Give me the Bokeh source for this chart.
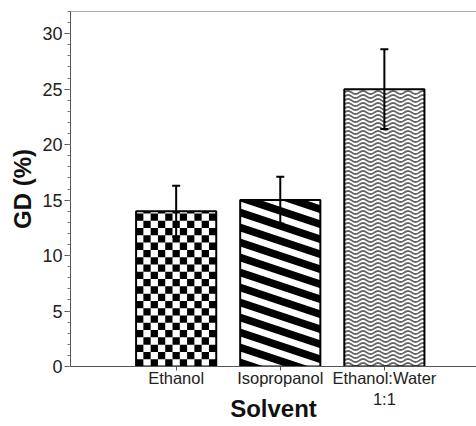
import math
from bokeh.plotting import figure
from bokeh.models import (ColumnDataSource, Whisker, TeeHead, FixedTicker, SingleIntervalTicker,
                          LinearAxis, Range1d)
from bokeh.embed import file_html
from bokeh.resources import INLINE

# ---- data ----
categories = ["Ethanol", "Isopropanol", "Ethanol:Water\n1:1"]
gd_values = [14.0, 15.0, 25.0]
gd_errors = [2.3, 2.1, 3.6]
x_title = "Solvent"
y_title = "GD (%)"

xpos = [i + 1 for i in range(len(categories))]
upper = [v + e for v, e in zip(gd_values, gd_errors)]
lower = [v - e for v, e in zip(gd_values, gd_errors)]

# ---- layout ----
W, H = 476, 426
B_LEFT, B_TOP, B_BOTTOM = 70, 11, 60
X0, X1 = -0.015, 3.885
Y0, Y1 = 0, 32
BAR_W = 0.77
px_x = (W - B_LEFT) / (X1 - X0)             # pixels per x unit
px_y = (H - B_TOP - B_BOTTOM) / (Y1 - Y0)   # pixels per y unit

p = figure(width=W, height=H, output_backend="svg", toolbar_location=None,
           x_range=Range1d(X0, X1), y_range=Range1d(Y0, Y1),
           min_border_left=B_LEFT, min_border_right=0, min_border_top=B_TOP,
           min_border_bottom=B_BOTTOM)
p.outline_line_color = None
p.grid.grid_line_color = None
p.background_fill_color = "white"
p.border_fill_color = "white"

# white bar bodies
p.vbar(x=xpos, top=gd_values, width=BAR_W, fill_color="white", line_color=None)


def clip_y(poly, lo, hi):
    def clip(pts, keep, inter):
        out = []
        n = len(pts)
        for i in range(n):
            a, b = pts[i], pts[(i + 1) % n]
            ka, kb = keep(a), keep(b)
            if ka:
                out.append(a)
            if ka != kb:
                out.append(inter(a, b))
        return out

    def at_y(a, b, yv):
        t = (yv - a[1]) / (b[1] - a[1])
        return (a[0] + t * (b[0] - a[0]), yv)

    pts = clip(poly, lambda q: q[1] >= lo, lambda a, b: at_y(a, b, lo))
    if pts:
        pts = clip(pts, lambda q: q[1] <= hi, lambda a, b: at_y(a, b, hi))
    return pts


# --- pattern 1: checkerboard (Ethanol) ---
xc, top = xpos[0], gd_values[0]
L = xc - BAR_W / 2
ncol = 11
cw = BAR_W / ncol
ch = cw * px_x / px_y
ql, qr, qb, qt = [], [], [], []
r = 0
while r * ch < top:
    for c in range(ncol):
        if (r + c) % 2 == 0:
            ql.append(L + c * cw)
            qr.append(L + (c + 1) * cw)
            qb.append(r * ch)
            qt.append(min((r + 1) * ch, top))
    r += 1
p.quad(left=ql, right=qr, bottom=qb, top=qt, fill_color="black", line_color=None)

# --- pattern 2: diagonal stripes (Isopropanol) ---
xc, top = xpos[1], gd_values[1]
L, R = xc - BAR_W / 2, xc + BAR_W / 2
period = 15 / px_y
thick = 8 / px_y
slope = (1 / 3) * px_x / px_y
drop = slope * BAR_W
xs, ys = [], []
j = -1
while j * period < top + drop:
    b = j * period
    poly = [(L, b), (R, b - drop), (R, b - drop + thick), (L, b + thick)]
    cp = clip_y(poly, 0, top)
    if len(cp) >= 3:
        xs.append([q[0] for q in cp])
        ys.append([q[1] for q in cp])
    j += 1
p.patches(xs, ys, fill_color="black", line_color=None)

# --- pattern 3: horizontal waves (Ethanol:Water 1:1) ---
xc, top = xpos[2], gd_values[2]
L, R = xc - BAR_W / 2, xc + BAR_W / 2
wper = 4 / px_y
amp = 1.5 / px_y
wl = 15 / px_x
npts = int(BAR_W * px_x * 2) + 1
wx, wy = [], []
k = 0
while True:
    yb = 2.0 / px_y + k * wper
    if yb + amp > top - 0.5 / px_y:
        break
    if yb - amp >= 0:
        xx = [L + BAR_W * i / (npts - 1) for i in range(npts)]
        yy = [yb + amp * math.sin(2 * math.pi * (x - L) / wl) for x in xx]
        wx.append(xx)
        wy.append(yy)
    k += 1
p.multi_line(wx, wy, line_color="#666666", line_width=1.8)

# bar outlines
p.vbar(x=xpos, top=gd_values, width=BAR_W, fill_color=None, line_color="black", line_width=2)

src = ColumnDataSource(dict(x=xpos, upper=upper, lower=lower))
wh = Whisker(base="x", upper="upper", lower="lower", source=src, level="overlay",
             line_color="black", line_width=2,
             upper_head=TeeHead(size=8, line_width=2, line_color="black"),
             lower_head=TeeHead(size=8, line_width=2, line_color="black"))
p.add_layout(wh)

# x axis
xa = p.xaxis[0]
xa.ticker = FixedTicker(ticks=xpos)
xa.major_label_overrides = {x: c for x, c in zip(xpos, categories)}
xa.major_label_text_font = "Liberation Sans"
xa.major_label_text_font_size = "16.5px"
xa.major_label_text_color = "#222222"
xa.major_label_standoff = -2
xa.major_tick_out = 4
xa.major_tick_in = 0
xa.minor_tick_out = 0
xa.axis_line_color = "#555555"
xa.major_tick_line_color = "#555555"
xa.axis_label = x_title
xa.axis_label_text_font = "Liberation Sans"
xa.axis_label_text_font_style = "bold"
xa.axis_label_text_font_size = "24px"
xa.axis_label_text_color = "#111111"
xa.axis_label_standoff = -16

# y axis
ya = p.yaxis[0]
ya.ticker = SingleIntervalTicker(interval=5, num_minor_ticks=5)
ya.major_label_text_font = "Liberation Sans"
ya.major_label_text_font_size = "18px"
ya.major_label_text_color = "#222222"
ya.major_label_standoff = 2
ya.major_tick_out = 6
ya.major_tick_in = 0
ya.minor_tick_out = 3
ya.minor_tick_in = 0
ya.axis_line_color = "#555555"
ya.major_tick_line_color = "#555555"
ya.minor_tick_line_color = "#777777"
ya.axis_label = y_title
ya.axis_label_text_font = "Liberation Sans"
ya.axis_label_text_font_style = "bold"
ya.axis_label_text_font_size = "24px"
ya.axis_label_text_color = "#111111"
ya.axis_label_standoff = 3

# top frame line
top_ax = LinearAxis(ticker=FixedTicker(ticks=[]), axis_line_color="#aaaaaa",
                    major_tick_out=0, minor_tick_out=0, major_label_text_font_size="0px")
p.add_layout(top_ax, "above")

open("out.html", "w").write(file_html(p, INLINE))
